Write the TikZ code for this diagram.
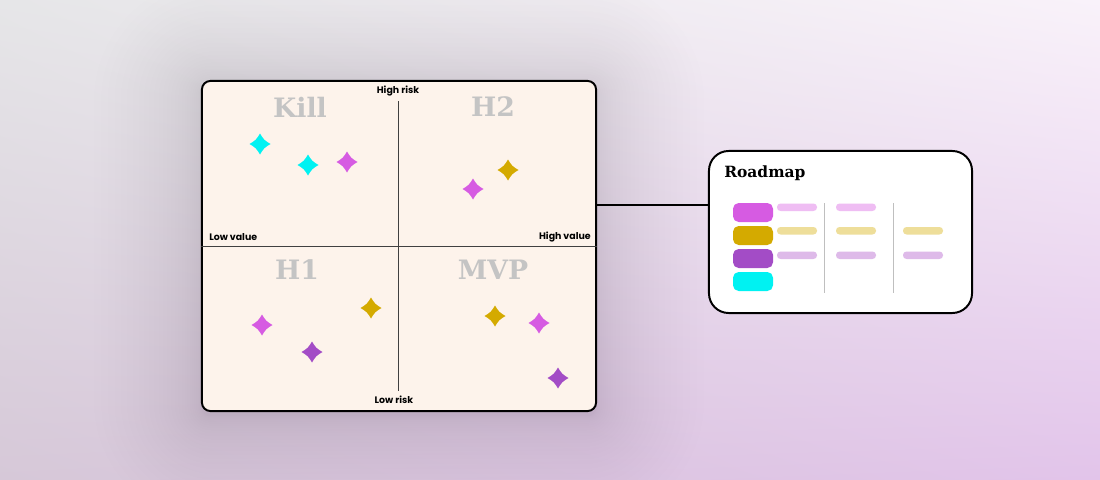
\documentclass[tikz,border=0pt]{standalone}
\usepackage{fontspec}
\usepackage{tikz}
\usetikzlibrary{arrows.meta, positioning, calc, shadings}

\newfontfamily\axisfont{Poppins}
\newfontfamily\headfont{DejaVu Serif}

\definecolor{bgTL}{HTML}{E6E6E8}
\definecolor{bgTR}{HTML}{F9F2FA}
\definecolor{bgBL}{HTML}{D6C8D8}
\definecolor{bgBR}{HTML}{E2C4EA}
\definecolor{paper}{HTML}{FDF3EB}
\definecolor{quadgrey}{HTML}{C4C4C4}
\definecolor{sparkcyan}{HTML}{00F2F2}
\definecolor{sparkpink}{HTML}{D65BE2}
\definecolor{sparkgold}{HTML}{D4AA00}
\definecolor{sparkplum}{HTML}{A34CC6}
\definecolor{barpink}{HTML}{EFBDF3}
\definecolor{bargold}{HTML}{EEDE9A}
\definecolor{barplum}{HTML}{DEBAE9}

\begin{document}
\begin{tikzpicture}[
    x=0.025cm, y=-0.025cm,
    panel/.style={draw=black, line width=1.4pt, fill=paper, rounded corners=6pt,
        minimum width=9.85cm, minimum height=8.25cm},
    card/.style={draw=black, line width=1.4pt, fill=white, rounded corners=14pt,
        minimum width=6.575cm, minimum height=4.05cm},
    axis/.style={draw=black!75, line width=0.6pt},
    axislabel/.style={font=\axisfont\bfseries\fontsize{6.7}{7}\selectfont, inner sep=0pt},
    quadrant/.style={font=\headfont\bfseries\fontsize{19}{20}\selectfont, text=quadgrey, inner sep=0pt},
    link/.style={draw=black, line width=1.1pt},
    swatch/.style={rounded corners=4pt},
    bar/.style={rounded corners=2.5pt},
    spark/.pic={\fill[pic actions] (0,10.5) .. controls (4,4) .. (10.5,0)
        .. controls (4,-4) .. (0,-10.5) .. controls (-4,-4) .. (-10.5,0)
        .. controls (-4,4) .. (0,10.5) -- cycle;}
]

% background
\useasboundingbox (0,0) rectangle (1100,480);
\shade[upper left=bgTL, upper right=bgTR, lower left=bgBL, lower right=bgBR]
    (0,0) rectangle (1100,480);

% soft shadow behind the matrix
\foreach \i in {1,...,30}
    \fill[black, opacity=0.0045, rounded corners=6pt+0.09pt*\i*\i]
        (202-0.12*\i*\i,86-0.12*\i*\i) rectangle (596+0.12*\i*\i,416+0.12*\i*\i);

% matrix
\node[panel] (matrix) at (399,246) {};
\draw[axis] (matrix.west) -- (matrix.east);
\draw[axis] (398,101) coordinate (axtop) -- (398,391) coordinate (axbot);

\node[axislabel] (hirisk) at (398,91) {High risk};
\node[axislabel] (lorisk) at (394,400) {Low risk};
\node[axislabel, anchor=west] (loval) at (209,237) {Low value};
\node[axislabel, anchor=east] (hival) at (591,237) {High value};

\node[quadrant] (kill) at (300,107) {Kill};
\node[quadrant] (h2) at (493,107) {H2};
\node[quadrant] (h1) at (297,270) {H1};
\node[quadrant] (mvp) at (493,270) {MVP};

% sparks
\foreach \px/\py/\c in {260/144/sparkcyan, 308/165/sparkcyan, 347/162/sparkpink,
    508/170/sparkgold, 473/189/sparkpink,
    262/325/sparkpink, 371/308/sparkgold, 312/352/sparkplum,
    495/316/sparkgold, 539/323/sparkpink, 558/378/sparkplum}
    \pic[fill=\c] at (\px,\py) {spark};

% roadmap card
\node[card] (roadmap) at (840.5,232) {};
\node[font=\headfont\bfseries\fontsize{11}{12}\selectfont, anchor=west, inner sep=0pt]
    (title) at (724,173) {Roadmap};

\coordinate (linky) at (0,205);
\draw[link] (matrix.east |- linky) -- (roadmap.west |- linky);

% swatches
\fill[swatch, sparkpink] (733,203) rectangle (773,222);
\fill[swatch, sparkgold] (733,226) rectangle (773,245);
\fill[swatch, sparkplum] (733,249) rectangle (773,268);
\fill[swatch, sparkcyan] (733,272) rectangle (773,291);

% columns
\draw[black!25, line width=0.5pt] (824.5,203) -- (824.5,293);
\draw[black!25, line width=0.5pt] (893.5,203) -- (893.5,293);

\fill[bar, barpink] (777,203.5) rectangle (817,211);
\fill[bar, bargold] (777,227) rectangle (817,234.5);
\fill[bar, barplum] (777,251.5) rectangle (817,259);
\fill[bar, barpink] (836,203.5) rectangle (876,211);
\fill[bar, bargold] (836,227) rectangle (876,234.5);
\fill[bar, barplum] (836,251.5) rectangle (876,259);
\fill[bar, bargold] (903,227) rectangle (943,234.5);
\fill[bar, barplum] (903,251.5) rectangle (943,259);

\end{tikzpicture}
\end{document}
